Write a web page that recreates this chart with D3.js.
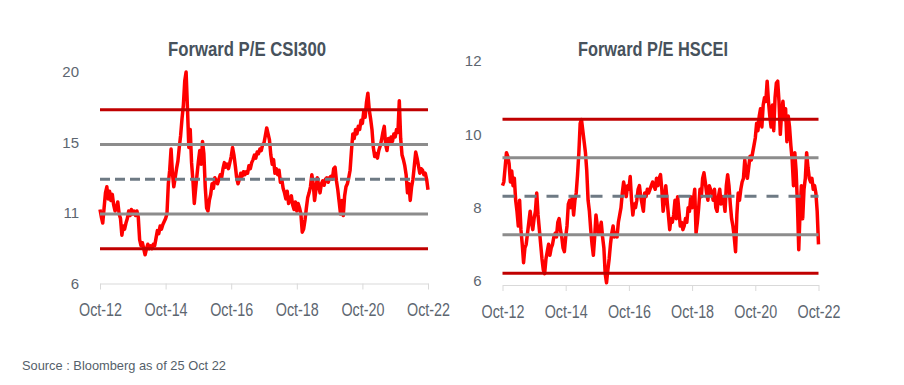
<!DOCTYPE html>
<html>
<head>
<meta charset="utf-8">
<script src="https://cdn.jsdelivr.net/npm/d3@7"></script>
<style>
	body { margin: 0; background: #fff; }
	svg { display: block; font-family: "Liberation Sans", Arial, sans-serif; }
</style>
</head>
<body>
<svg id="chart" width="904" height="385"></svg>
<script>
// months since Oct-12, one value every half month (0, 0.5, 1 ... 120)
var csiValues = [
	10.9,10.4,10.0,11.0,12.0,12.4,11.6,12.1,11.5,11.9,11.2,10.8,11.0,11.4,10.6,10.3,9.2,9.8,9.6,10.0,
	10.3,10.8,10.5,10.9,10.6,10.8,10.5,10.8,10.4,8.9,8.5,8.7,8.3,7.9,8.3,8.6,8.3,8.5,8.3,8.6,
	8.5,9.0,9.5,9.3,9.8,9.6,9.9,10.1,10.3,10.6,12.6,13.5,14.9,13.3,12.4,13.0,13.6,14.1,15.0,15.8,
	16.9,17.8,19.4,20.0,17.6,15.0,16.2,14.0,12.8,11.3,12.3,13.2,14.1,14.8,13.9,15.4,14.6,12.4,11.0,10.8,
	11.5,11.9,12.6,12.3,13.0,12.8,12.6,12.9,13.2,13.0,13.6,14.0,13.7,13.9,13.6,14.0,14.4,15.0,14.5,13.8,
	13.0,12.6,12.9,13.3,13.1,13.4,13.2,13.4,13.3,13.8,13.6,14.0,14.2,14.5,14.3,14.7,14.6,14.9,14.8,15.2,
	15.3,15.8,16.3,15.9,15.5,14.5,13.9,14.2,13.3,13.6,13.2,13.5,12.7,12.9,12.3,12.0,11.6,12.1,11.3,11.6,
	11.8,11.2,10.9,11.4,10.8,11.3,11.0,10.6,9.4,9.6,10.2,11.0,11.7,12.0,12.4,13.2,12.6,11.5,12.2,13.0,
	12.5,12.0,12.6,12.8,12.5,12.9,13.0,12.7,13.0,13.1,12.9,13.6,13.7,12.8,12.2,11.4,10.6,11.5,10.5,11.8,
	12.4,12.6,13.0,13.5,14.8,15.9,15.6,16.2,15.9,16.4,16.2,16.8,16.6,17.4,17.0,18.0,18.6,17.5,16.9,16.2,
	15.0,14.4,14.6,14.3,14.8,15.1,15.5,16.0,16.4,15.2,14.8,15.6,15.3,15.7,15.4,15.9,15.7,16.2,16.0,18.1,
	15.6,14.5,14.2,13.8,13.2,12.0,12.6,11.5,12.4,12.9,13.8,14.7,14.3,13.8,13.3,13.6,13.5,13.2,13.3,12.9,
	12.2
];
var hsceiValues = [
	8.6,8.7,9.1,9.5,9.4,9.2,8.7,9.0,8.6,8.8,8.2,7.9,7.5,8.2,7.4,7.0,6.5,6.9,7.0,7.3,
	7.6,7.9,7.6,7.4,7.7,7.9,8.4,7.8,7.4,7.0,6.6,6.3,6.2,6.6,6.8,7.0,6.7,6.9,7.0,7.2,
	7.3,7.2,7.6,7.7,7.4,7.2,6.9,6.8,7.2,7.5,8.1,8.2,8.0,8.3,7.8,8.2,8.4,8.9,9.5,10.3,
	10.4,10.1,9.8,9.5,9.0,8.2,7.9,7.4,7.0,6.7,7.2,7.8,7.5,7.3,7.4,7.6,7.2,6.9,6.2,5.95,
	6.3,6.6,7.0,7.3,7.5,7.2,7.3,7.2,7.6,7.8,8.0,8.4,8.7,8.5,8.3,8.6,8.5,8.85,8.2,7.8,
	8.1,8.0,8.2,8.5,8.6,8.3,8.1,7.9,8.4,8.3,8.5,8.4,8.5,8.6,8.7,8.6,8.5,8.8,8.6,8.8,
	8.9,8.5,7.9,8.2,8.6,8.2,7.8,7.4,7.7,7.6,7.8,8.2,7.7,8.3,7.9,7.5,7.6,7.4,7.5,7.7,
	7.6,8.0,7.9,8.3,8.0,8.2,8.5,7.3,7.6,8.0,8.5,8.3,8.8,8.95,8.7,8.4,8.2,8.6,8.5,8.4,
	8.2,8.5,8.0,7.9,8.3,8.5,8.1,8.3,8.2,7.9,8.6,8.9,8.6,8.1,7.7,7.5,7.2,6.8,7.8,8.4,
	8.2,8.5,8.7,8.8,9.3,9.0,8.8,9.1,9.4,9.3,9.5,9.7,9.9,10.3,10.1,10.5,10.7,10.2,10.8,11.0,
	10.9,11.45,10.9,10.5,10.2,10.8,10.1,11.0,11.4,11.45,10.9,10.0,10.6,10.9,10.4,10.7,9.8,10.5,10.2,9.7,
	9.3,8.6,9.5,9.0,8.1,6.85,7.9,8.6,7.7,8.5,8.8,9.5,9.1,8.8,8.7,8.8,8.5,8.6,8.4,7.9,
	7.0
];

// mean, +/-1 sd, +/-2 sd
var csiBands = [8.3, 10.6, 12.9, 15.2, 17.5];
var hsceiBands = [6.21, 7.26, 8.31, 9.36, 10.41];

var xTickMonths = [0, 24, 48, 72, 96, 120];
var xTickLabels = ["Oct-12", "Oct-14", "Oct-16", "Oct-18", "Oct-20", "Oct-22"];
var csiYTicks = [6, 6 + 14 / 3, 6 + 28 / 3, 20];
var hsceiYTicks = [6, 8, 10, 12];

var bandColor = ["#c00000", "#8c8c8c", "#6e7a84", "#8c8c8c", "#c00000"];

var svg = d3.select("#chart");

function drawPanel(opt){
	var g = svg.append("g");

	var x = d3.scaleLinear().domain([0, 120]).range([opt.left, opt.right]);
	var y = d3.scaleLinear().domain(opt.yDomain).range([opt.bottom, opt.top]);

	// title
	g.append("text")
		.attr("x", opt.titleX).attr("y", 56)
		.attr("text-anchor", "middle")
		.attr("font-size", 19.5).attr("font-weight", "bold")
		.attr("fill", "#47525c")
		.attr("textLength", opt.titleLen).attr("lengthAdjust", "spacingAndGlyphs")
		.text(opt.title);

	// y labels, no axis line
	var yAxis = g.append("g")
		.attr("transform", "translate(" + opt.left + ",0)")
		.call(d3.axisLeft(y).tickValues(opt.yTicks).tickSize(0).tickPadding(21).tickFormat(d3.format(".0f")));
	yAxis.select(".domain").remove();
	yAxis.selectAll("text").attr("font-size", 15).attr("fill", "#5d6670").attr("font-family", "Liberation Sans, Arial, sans-serif");

	// x axis
	var xAxis = g.append("g")
		.attr("transform", "translate(0," + opt.bottom + ")")
		.call(d3.axisBottom(x).tickValues(xTickMonths).tickSizeInner(6).tickSizeOuter(0).tickPadding(14)
			.tickFormat(function(d, i){ return xTickLabels[i]; }));
	xAxis.select(".domain").attr("stroke", "#d9d9d9");
	xAxis.selectAll(".tick line").attr("stroke", "#d9d9d9");
	xAxis.selectAll("text")
		.attr("font-size", 18).attr("fill", "#5d6670")
		.attr("font-family", "Liberation Sans, Arial, sans-serif")
		.attr("textLength", 43).attr("lengthAdjust", "spacingAndGlyphs");

	var line = d3.line()
		.x(function(d, i){ return x(i / 2); })
		.y(function(d){ return y(d); });

	g.append("path")
		.datum(opt.values)
		.attr("fill", "none")
		.attr("stroke", "#ff0000")
		.attr("stroke-width", 3.5)
		.attr("stroke-linejoin", "round")
		.attr("d", line);

	// mean and sd lines drawn on top of the series
	g.selectAll(".band")
		.data(opt.bands).enter().append("line")
		.attr("class", "band")
		.attr("x1", x(0)).attr("x2", x(120))
		.attr("y1", function(d){ return y(d); })
		.attr("y2", function(d){ return y(d); })
		.attr("stroke", function(d, i){ return bandColor[i]; })
		.attr("stroke-width", 3)
		.attr("stroke-dasharray", function(d, i){ return i == 2 ? opt.dash : null; });
}

drawPanel({
	title: "Forward P/E CSI300", titleX: 247, titleLen: 158,
	left: 100, right: 428, top: 72, bottom: 283.5,
	yDomain: [6, 20], yTicks: csiYTicks,
	values: csiValues, bands: csiBands, dash: "10,5"
});

drawPanel({
	title: "Forward P/E HSCEI", titleX: 653, titleLen: 150,
	left: 502.5, right: 818.5, top: 61, bottom: 285,
	yDomain: [5.89, 12], yTicks: hsceiYTicks,
	values: hsceiValues, bands: hsceiBands, dash: "12,10"
});

svg.append("text")
	.attr("x", 22).attr("y", 370)
	.attr("font-size", 13.5).attr("fill", "#555f6a")
	.attr("textLength", 204).attr("lengthAdjust", "spacingAndGlyphs")
	.text("Source : Bloomberg as of 25 Oct 22");
</script>
</body>
</html>
